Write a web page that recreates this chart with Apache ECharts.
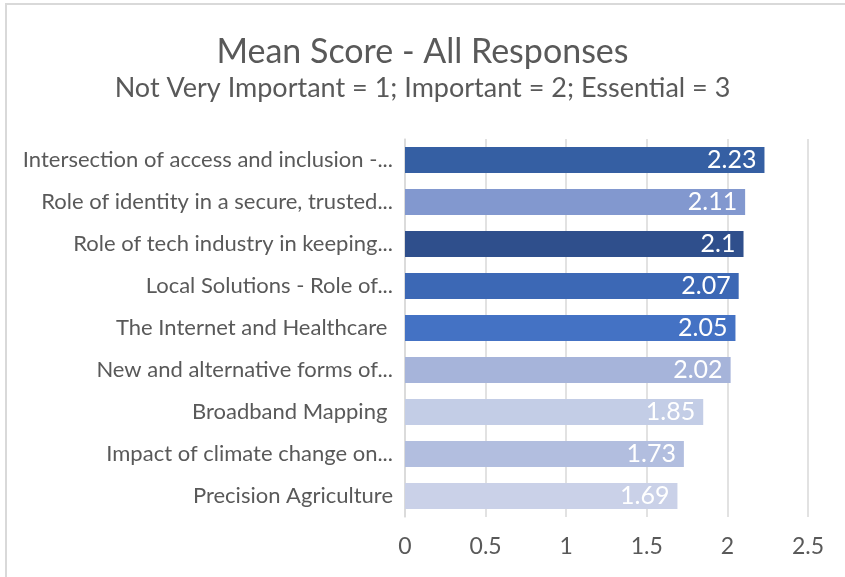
<!DOCTYPE html>
<html>
<head>
<meta charset="utf-8">
<script src="https://cdn.jsdelivr.net/npm/echarts@6/dist/echarts.min.js"></script>
<style>
  html, body { margin: 0; padding: 0; background: #fff; }
</style>
</head>
<body>
<div id="echar" style="width: 845px; height: 577px"></div>
<script>
// categories, bottom to top (ECharts category axis starts at the bottom)
const categories = [
  'Precision Agriculture',
  'Impact of climate change on...',
  'Broadband Mapping ',
  'New and alternative forms of...',
  'The Internet and Healthcare ',
  'Local Solutions - Role of...',
  'Role of tech industry in keeping...',
  'Role of identity in a secure, trusted...',
  'Intersection of access and inclusion -...',
]
const scores = [1.69, 1.73, 1.85, 2.02, 2.05, 2.07, 2.1, 2.11, 2.23]
const barColors = [
  '#CAD1E8', '#B2BEDF', '#C3CDE6', '#A6B4DA', '#4472C4',
  '#3C68B5', '#2F4F8C', '#8298CF', '#355FA3',
]
const xTicks = [0, 0.5, 1, 1.5, 2, 2.5]

const font = 'Lato, "Open Sans", sans-serif'

let chart = echarts.init(document.getElementById('echar'))
let option = {
  animation: false,
  textStyle: { fontFamily: font },
  graphic: [
    {
      type: 'rect',
      shape: { x: 6, y: 4, width: 900, height: 700 },
      style: { fill: 'none', stroke: '#D9D9D9', lineWidth: 2 },
    },
  ],
  title: {
    text: 'Mean Score - All Responses',
    subtext: 'Not Very Important = 1; Important = 2; Essential = 3',
    left: 'center',
    top: 30,
    itemGap: 6,
    textStyle: { fontFamily: font, fontSize: 34, fontWeight: 'normal', color: '#595959' },
    subtextStyle: { fontFamily: font, fontSize: 27, color: '#595959' },
  },
  grid: {
    left: 405,
    right: 37,
    top: 139,
    bottom: 60,
    containLabel: false,
  },
  xAxis: {
    type: 'value',
    min: xTicks[0],
    max: xTicks[xTicks.length - 1],
    interval: 0.5,
    axisLine: { show: false },
    axisTick: { show: false },
    splitLine: { show: true, lineStyle: { color: '#D9D9D9', width: 1.5 } },
    axisLabel: { color: '#595959', fontSize: 23, margin: 18 },
  },
  yAxis: {
    type: 'category',
    data: categories,
    axisLine: { show: true, lineStyle: { color: '#D9D9D9', width: 1.5 } },
    axisTick: { show: false },
    axisLabel: { color: '#595959', fontSize: 22, margin: 12 },
  },
  series: [
    {
      type: 'bar',
      barWidth: '62%',
      data: scores.map((v, i) => ({ value: v, itemStyle: { color: barColors[i] } })),
      label: {
        show: true,
        position: 'insideRight',
        distance: 8,
        color: '#fff',
        fontSize: 25,
        fontFamily: font,
      },
    },
  ],
}
chart.setOption(option, true)
</script>
</body>
</html>
